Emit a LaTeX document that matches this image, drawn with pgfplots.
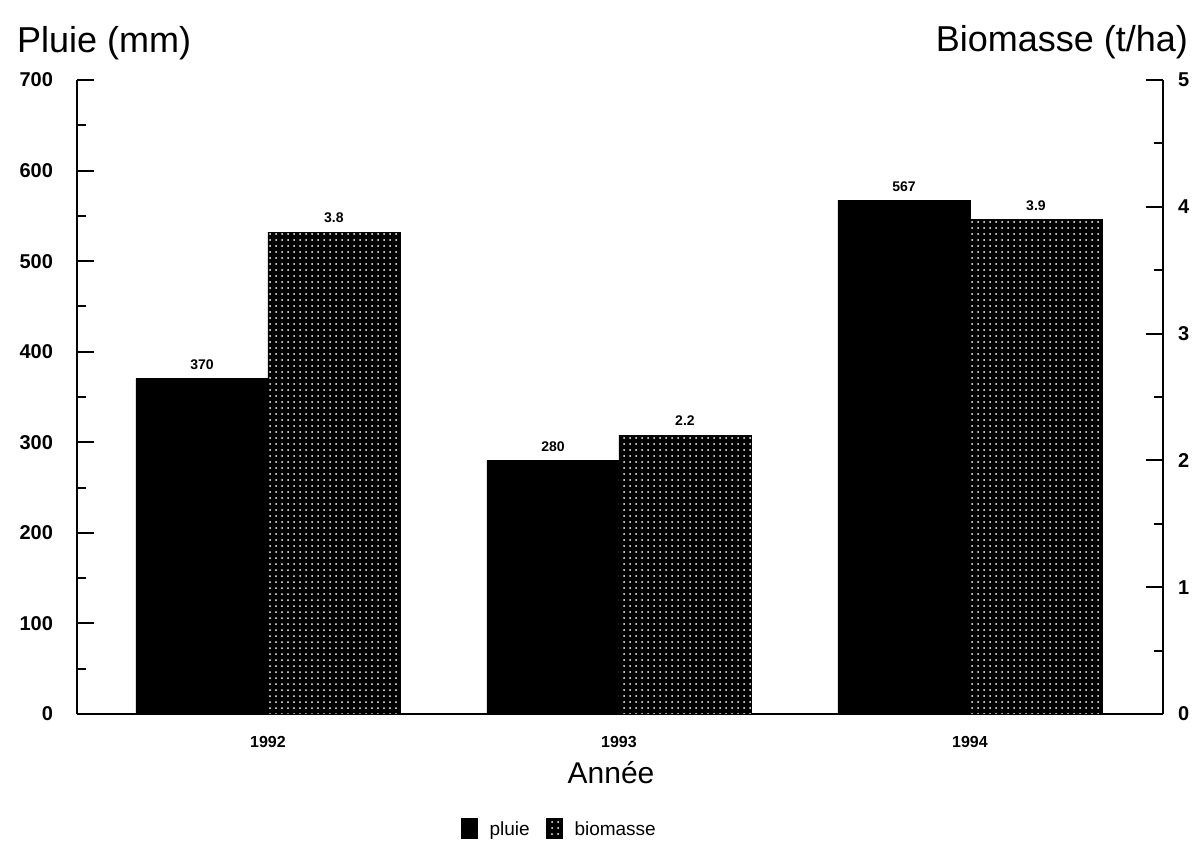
\documentclass[border=0pt]{standalone}
\usepackage{pgfplots}
\pgfplotsset{compat=1.18}
\usepackage{fontspec}
\setmainfont{Liberation Sans}
\usetikzlibrary{patterns}

\begin{document}
\begin{tikzpicture}
\useasboundingbox (-38.5pt,-72pt) rectangle (560pt,357pt);
% left axis: rainfall
\begin{axis}[
  at={(0,0)}, anchor=south west,
  width=543pt, height=317pt, scale only axis,
  xmin=-0.544, xmax=2.55, ymin=0, ymax=700,
  axis x line*=bottom, axis y line*=left,
  axis line style={line width=1.3pt, -},
  xtick={0,1,2}, xticklabels={1992,1993,1994},
  x tick style={draw=none},
  xticklabel style={font=\fontsize{8}{9}\selectfont\bfseries, yshift=1pt},
  ytick={0,100,...,700}, minor y tick num=1,
  tick align=inside,
  major tick length=8.5pt, minor tick length=4.5pt,
  y tick style={line width=1pt, black},
  yticklabel style={font=\fontsize{10}{12}\selectfont\bfseries, xshift=-8.5pt},
  /pgf/number format/assume math mode=true,
  ybar, bar width=0.376,
  nodes near coords, point meta=explicit symbolic,
  every node near coord/.append style={font=\fontsize{7}{8}\selectfont\bfseries, yshift=1pt},
]
\addplot[fill=black, draw=black, bar shift=-0.188]
  coordinates {(0,370) [370] (1,280) [280] (2,567) [567]};
\end{axis}
% right axis: biomass
\begin{axis}[
  at={(0,0)}, anchor=south west,
  width=543pt, height=317pt, scale only axis,
  xmin=-0.544, xmax=2.55, ymin=0, ymax=5,
  axis x line=none, axis y line*=right,
  axis line style={line width=1.3pt, -},
  ytick={0,1,...,5}, minor y tick num=1,
  tick align=inside,
  major tick length=8.5pt, minor tick length=4.5pt,
  y tick style={line width=1pt, black},
  yticklabel style={font=\fontsize{10}{12}\selectfont\bfseries, xshift=4pt},
  /pgf/number format/assume math mode=true,
  ybar, bar width=0.376,
  nodes near coords, point meta=explicit symbolic,
  every node near coord/.append style={font=\fontsize{7}{8}\selectfont\bfseries, yshift=1pt},
  legend style={at={(0.445,-0.183)}, anchor=center, draw=none,
    font=\fontsize{9.5}{11}\selectfont,
    /tikz/every odd column/.append style={column sep=4pt},
    /tikz/every even column/.append style={column sep=6pt}},
  legend columns=2,
  legend image code/.code={\draw[#1] (0pt,-4pt) rectangle (8pt,6pt);},
]
\addlegendimage{fill=black, draw=black}
\addlegendentry{pluie}
\addplot[fill=black, draw=black, postaction={pattern=dots, pattern color=white}, bar shift=0.188]
  coordinates {(0,3.8) [3.8] (1,2.2) [2.2] (2,3.9) [3.9]};
\addlegendentry{biomasse}
\end{axis}
\node[anchor=west, font=\fontsize{18}{20}\selectfont] at (-33.5pt,335.5pt) {Pluie (mm)};
\node[anchor=east, font=\fontsize{18}{20}\selectfont] at (559pt,336pt) {Biomasse (t/ha)};
\node[font=\fontsize{15}{17}\selectfont] at (267pt,-29.5pt) {Année};
\end{tikzpicture}
\end{document}
